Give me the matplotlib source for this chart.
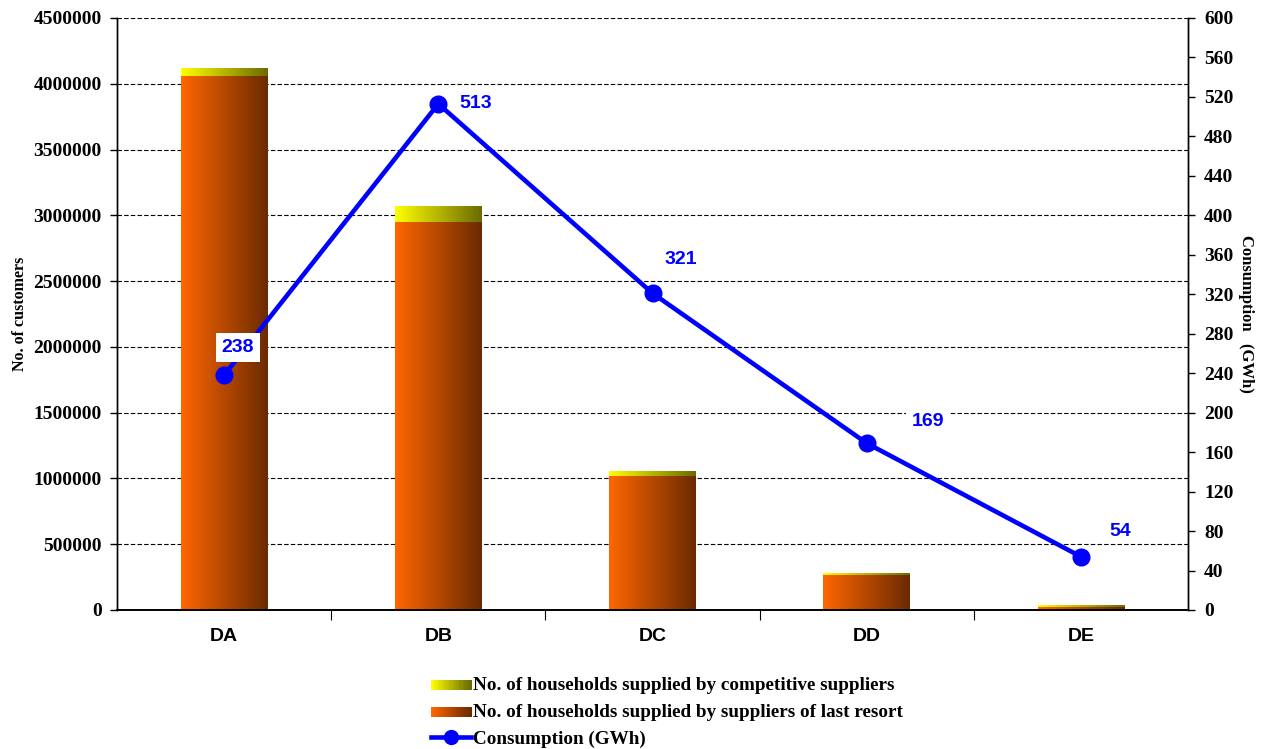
import numpy as np
import matplotlib
matplotlib.use("Agg")
import matplotlib.pyplot as plt
from matplotlib.colors import LinearSegmentedColormap
from matplotlib.legend_handler import HandlerBase
from matplotlib.patches import Rectangle
from matplotlib.lines import Line2D

# data
cats = ["DA", "DB", "DC", "DD", "DE"]
last_resort = [4060000, 2950000, 1020000, 268000, 22000]
competitive = [60000, 120000, 36000, 15000, 16000]
consumption = [238, 513, 321, 169, 54]
label_boxed = [True, False, False, True, False]
# label offsets in points (dx, dy)
label_off = [(10, 20), (27, 0), (20, 24), (44, 16), (28, 18)]

orange_cmap = LinearSegmentedColormap.from_list("org", ["#FF6600", "#6B2A00"])
yellow_cmap = LinearSegmentedColormap.from_list("yel", ["#FFFF00", "#6B6B00"])

serif = "Liberation Serif"
sans = "Liberation Sans"

fig = plt.figure(figsize=(12.73, 7.49), dpi=100)
ax = fig.add_axes([0.0919, 0.1856, 0.8414, 0.7904])
ax2 = ax.twinx()

x = np.arange(len(cats))
width = 0.405
ax.set_xlim(-0.5, len(cats) - 0.5)
ax.set_ylim(0, 4500000)
ax2.set_ylim(0, 600)

grad = np.linspace(0, 1, 256).reshape(1, -1)


def gradient_bars(bottoms, heights, cmap):
    bars = ax.bar(x, heights, width, bottom=bottoms, color="none", edgecolor="none", zorder=2)
    for b in bars:
        x0, y0 = b.get_x(), b.get_y()
        im = ax.imshow(grad, cmap=cmap, aspect="auto", zorder=2,
                       extent=(x0, x0 + b.get_width(), y0, y0 + b.get_height()))
        im.set_clip_path(b)
    return bars


gradient_bars(np.zeros(len(cats)), last_resort, orange_cmap)
gradient_bars(np.array(last_resort), competitive, yellow_cmap)
ax.set_xlim(-0.5, len(cats) - 0.5)
ax.set_ylim(0, 4500000)

# grid
ax.set_axisbelow(True)
ax.yaxis.grid(True, linestyle=(0, (4, 2)), color="black", linewidth=0.8)
ax.set_yticks(np.arange(0, 4500001, 500000))
ax.set_yticklabels([str(v) for v in range(0, 4500001, 500000)], fontfamily=serif,
                   fontweight="bold", fontsize=14)
ax2.set_yticks(np.arange(0, 601, 40))
ax2.set_yticklabels([str(v) for v in range(0, 601, 40)], fontfamily=serif,
                    fontweight="bold", fontsize=14)

ax.set_xticks(x)
ax.set_xticklabels(cats, fontfamily=sans, fontweight="bold", fontsize=14)
ax.set_xticks(np.arange(0.5, len(cats) - 0.5, 1), minor=True)
ax.tick_params(axis="x", which="major", length=0, pad=13)
ax.tick_params(axis="x", which="minor", length=7, width=0.8)
ax.tick_params(axis="y", length=5, width=1, pad=6)
ax2.tick_params(axis="y", length=5, width=1, pad=6.5)

for a in (ax, ax2):
    a.spines["top"].set_visible(False)
    a.spines["left"].set_linewidth(1)
    a.spines["right"].set_linewidth(1)
    a.spines["bottom"].set_linewidth(1.2)

ax.set_ylabel("No. of customers", fontfamily=serif, fontweight="bold", fontsize=11.5, labelpad=4)
ax2.set_ylabel("Consumption   (GWh)", fontfamily=serif, fontweight="bold", fontsize=12,
               rotation=270, labelpad=15)

# consumption line
ax2.plot(x, consumption, color="#0000FF", linewidth=3.3, marker="o", markersize=12,
         zorder=5)
for xi, v, boxed, off in zip(x, consumption, label_boxed, label_off):
    bbox = dict(facecolor="white", edgecolor="none", pad=4) if boxed else None
    ax2.annotate(str(v), (xi, v), xytext=off, textcoords="offset points",
                 ha="center", va="center", color="#0000FF", fontfamily=sans,
                 fontweight="bold", fontsize=14, bbox=bbox, zorder=6)


class GradHandler(HandlerBase):
    def __init__(self, cmap):
        super().__init__()
        self.cmap = cmap

    def create_artists(self, legend, orig_handle, xdescent, ydescent, width, height,
                       fontsize, trans):
        n = 24
        arts = []
        for i in range(n):
            r = Rectangle((-xdescent + width * i / n, -ydescent), width / n + 0.3, height * 0.75,
                          facecolor=self.cmap(i / (n - 1)), edgecolor="none",
                          transform=trans)
            arts.append(r)
        return arts


h_comp = Rectangle((0, 0), 1, 1)
h_last = Rectangle((0, 0), 1, 1)
h_line = Line2D([], [], color="#0000FF", linewidth=3.3, marker="o", markersize=10)
fig.legend([h_comp, h_last, h_line],
           ["No. of households supplied by competitive suppliers",
            "No. of households supplied by suppliers of last resort",
            "Consumption (GWh)"],
           handler_map={h_comp: GradHandler(yellow_cmap), h_last: GradHandler(orange_cmap)},
           loc="upper left", bbox_to_anchor=(0.331, 0.11), frameon=False,
           prop={"family": serif, "weight": "bold", "size": 13.8},
           handlelength=2.1, handletextpad=0.1, labelspacing=0.5, borderpad=0)

fig.savefig("out.png", dpi=100)
